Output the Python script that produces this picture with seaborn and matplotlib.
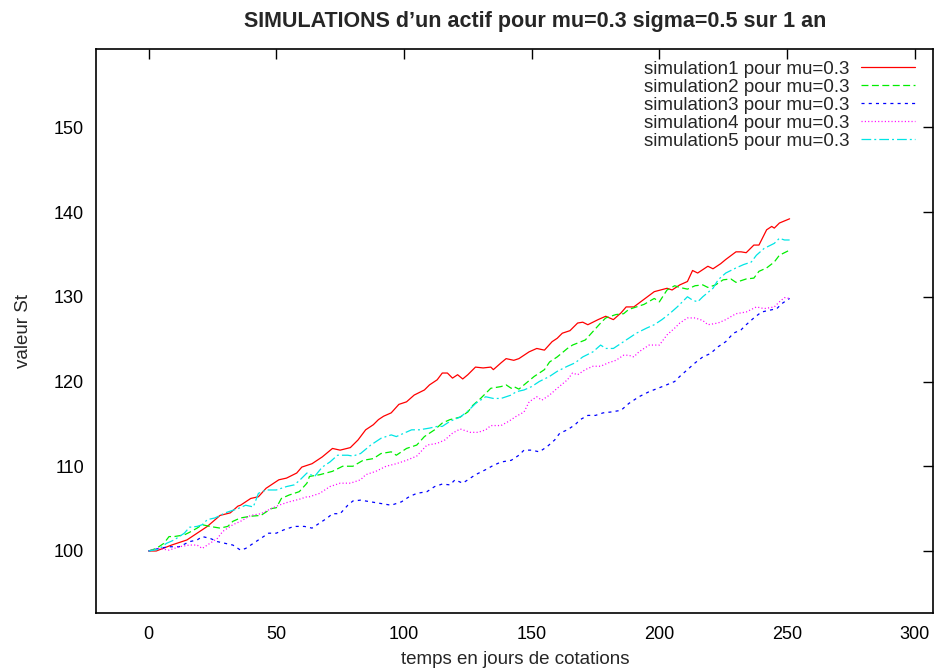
import matplotlib
matplotlib.use("Agg")
import matplotlib.pyplot as plt
import seaborn as sns
import pandas as pd

# ---------------- data ----------------
sim1_days = [0,3,9,15,18,23,28,32,35,36,40,43,46,51,54,58,60,64,68,72,75,79,82,85,88,90,92,95,98,101,104,108,110,113,115,117,119,121,123,125,128,131,134,135,138,140,143,145,149,152,155,158,160,162,165,168,170,172,176,179,182,185,187,190,194,198,203,205,208,211,213,215,217,219,221,224,226,230,232,234,237,239,242,244,245,247,251]
sim1_vals = [100,100.0,100.7,101.3,101.9,102.9,104.2,104.5,105.3,105.4,106.2,106.4,107.4,108.4,108.6,109.2,109.9,110.3,111.1,112.1,111.9,112.2,113.1,114.3,114.9,115.5,115.9,116.3,117.3,117.6,118.4,119.0,119.6,120.2,121.0,121.0,120.4,120.8,120.3,120.8,121.7,121.6,121.7,121.4,122.2,122.7,122.5,122.7,123.5,123.9,123.7,124.7,125.1,125.7,126.0,126.9,127.0,126.7,127.3,127.7,127.3,128.1,128.8,128.8,129.7,130.6,131.0,130.8,131.4,131.8,133.1,132.8,133.2,133.6,133.3,133.9,134.4,135.3,135.3,135.2,136.1,136.1,137.9,138.3,138.1,138.7,139.2]

sim2_days = [0,3,6,8,10,14,16,19,21,24,28,31,33,36,40,44,48,50,52,55,59,62,63,67,72,76,80,84,88,91,95,97,101,105,108,112,115,118,122,125,127,130,132,134,138,140,142,143,145,147,151,155,157,160,164,166,171,174,177,179,183,186,188,191,194,198,200,203,206,208,211,214,217,219,222,225,228,230,234,237,239,242,245,247,251]
sim2_vals = [100,100.3,100.9,101.7,101.7,101.9,102.2,102.7,103.1,102.9,102.7,102.9,103.5,103.9,104.1,104.2,105.0,105.1,106.2,106.6,107.0,108.0,108.8,109.0,109.4,110.0,110.0,110.7,110.9,111.5,111.7,111.3,112.1,112.5,113.5,114.3,115.1,115.5,115.8,116.4,117.2,118.0,118.6,119.2,119.4,119.6,119.2,119.4,119.1,119.6,120.6,121.4,122.3,122.9,123.9,124.3,124.9,125.9,126.9,127.5,127.9,128.0,128.5,128.8,129.1,129.8,129.4,130.8,131.3,131.1,130.9,131.3,131.4,131.1,131.4,132.0,132.1,131.7,132.1,132.2,133.0,133.4,134.1,134.9,135.5]

sim3_days = [0,4,8,12,16,19,21,24,27,30,33,36,38,41,44,47,50,53,57,61,64,67,70,72,75,78,80,83,87,91,95,97,99,102,105,109,112,115,118,120,123,125,128,132,135,138,142,145,147,150,153,156,159,161,164,167,169,172,175,178,181,185,188,192,196,202,206,208,211,214,217,220,223,226,229,232,234,237,240,243,246,248,251]
sim3_vals = [100,100.3,100.5,100.5,101.1,101.3,101.7,101.5,101.1,100.9,100.7,100.1,100.3,100.9,101.5,102.1,102.1,102.5,102.9,102.9,102.7,103.3,103.9,104.4,104.4,105.4,105.9,106.0,105.8,105.6,105.4,105.6,105.8,106.4,106.8,107.0,107.6,107.9,107.8,108.4,108.0,108.4,109.0,109.6,110.1,110.5,110.7,111.3,111.9,111.9,111.7,112.3,113.1,113.9,114.3,114.9,115.5,116.0,116.0,116.3,116.4,116.6,117.4,118.2,118.8,119.5,120.0,120.6,121.4,122.2,122.9,123.3,124.1,124.7,125.7,126.1,126.7,127.5,128.2,128.4,128.6,129.2,129.8]

sim4_days = [0,4,8,12,16,19,21,24,27,29,33,36,40,44,48,51,55,59,62,63,67,71,75,79,83,85,89,93,97,101,105,109,113,116,119,122,126,129,132,134,138,141,144,147,149,152,154,157,160,164,166,168,171,174,177,180,183,186,188,190,192,196,200,203,206,208,211,214,217,219,223,226,230,234,238,241,245,247,249,251]
sim4_vals = [100,100.3,100.1,100.5,100.7,100.7,100.3,100.9,101.5,102.3,103.1,103.5,104.2,104.4,105.0,105.4,105.8,106.1,106.4,106.4,106.8,107.6,108.0,108.0,108.4,109.0,109.4,110.0,110.3,110.7,111.2,112.5,112.7,113.1,113.9,114.4,114.0,114.0,114.3,114.8,114.8,115.3,115.9,116.4,117.6,118.2,117.8,118.4,119.2,120.2,121.0,120.8,121.4,121.8,121.8,122.2,122.5,123.1,123.1,122.9,123.5,124.3,124.3,125.5,126.3,126.9,127.5,127.5,127.2,126.7,126.9,127.3,128.0,128.2,128.8,128.6,128.8,129.4,129.9,129.8]

sim5_days = [0,4,7,10,14,16,19,21,23,26,30,35,38,41,43,46,50,54,57,59,62,65,68,71,74,78,80,83,87,91,95,97,100,103,106,110,113,115,118,122,125,128,132,135,138,142,144,147,150,153,157,160,164,167,170,174,177,179,182,185,189,191,195,198,201,204,207,211,213,215,217,221,223,226,230,233,236,238,241,245,247,249,251]
sim5_vals = [100,100.2,100.9,101.3,102.1,102.8,102.9,103.1,103.7,103.9,104.5,105.0,105.4,105.2,106.8,107.2,107.2,107.6,107.8,108.3,109.2,108.8,109.9,110.5,111.3,111.3,111.2,111.5,112.5,113.3,113.7,113.5,113.9,114.3,114.3,114.5,114.7,114.7,115.3,115.8,116.5,117.4,118.2,118.0,118.0,118.4,118.8,119.0,119.4,120.0,120.6,121.2,121.8,122.2,122.9,123.5,124.3,123.9,123.9,124.5,125.3,125.7,126.3,126.7,127.3,128.0,128.8,130.0,129.6,129.4,130.0,131.0,132.0,132.8,133.4,133.8,134.1,134.9,135.7,136.3,136.9,136.7,136.7]

labels = ["simulation1 pour mu=0.3", "simulation2 pour mu=0.3", "simulation3 pour mu=0.3",
          "simulation4 pour mu=0.3", "simulation5 pour mu=0.3"]
x_ticks = [0, 50, 100, 150, 200, 250, 300]
y_ticks = [100, 110, 120, 130, 140, 150]
title = "SIMULATIONS d\u2019un actif pour mu=0.3 sigma=0.5 sur 1 an"
xlabel = "temps en jours de cotations"
ylabel = "valeur St"

series = [(sim1_days, sim1_vals), (sim2_days, sim2_vals), (sim3_days, sim3_vals),
          (sim4_days, sim4_vals), (sim5_days, sim5_vals)]

# ---------------- styling ----------------
sns.set_theme(style="white")
plt.rcParams["font.family"] = ["Liberation Sans", "DejaVu Sans"]
plt.rcParams["lines.scale_dashes"] = False

colors = ["#ff0000", "#00ee00", "#0000ff", "#ff00ff", "#00e5e5"]
styles = ["-", (0, (5.0, 2.5)), (0, (2.2, 3.0)), (0, (0.8, 1.6)), (0, (7.0, 2.2, 1.4, 2.2))]

fig = plt.figure(figsize=(9.35, 6.69), dpi=100)
ax = fig.add_axes([0.1032, 0.0833, 0.8948, 0.8435])

for (d, v), lab, c, ls in zip(series, labels, colors, styles):
    df = pd.DataFrame({"jour": d, "St": v})
    sns.lineplot(data=df, x="jour", y="St", ax=ax, color=c, linestyle=ls,
                 linewidth=0.9, label=lab, estimator=None, sort=False)

ax.set_xlim(-20.4, 307.2)
ax.set_ylim(92.65, 159.24)
ax.set_xticks(x_ticks)
ax.set_yticks(y_ticks)
ax.tick_params(direction="in", length=7, width=1, top=True, right=True,
               labelsize=13, colors="black")
ax.tick_params(axis="y", pad=9)
ax.tick_params(axis="x", pad=9)
for s in ax.spines.values():
    s.set_visible(True)
    s.set_color("black")
    s.set_linewidth(1.2)

ax.set_title(title, fontsize=15.5, fontweight="bold", pad=15.5, x=0.5248)
ax.set_xlabel(xlabel, fontsize=13.5, labelpad=6)
ax.set_ylabel(ylabel, fontsize=13.5, labelpad=16)

leg = ax.legend(loc="upper right", frameon=False, markerfirst=False,
                fontsize=13.5, handlelength=2.9, handletextpad=0.6,
                labelspacing=0.05, borderaxespad=0.3,
                bbox_to_anchor=(0.994, 1.003))

fig.savefig("out.png", dpi=100)
